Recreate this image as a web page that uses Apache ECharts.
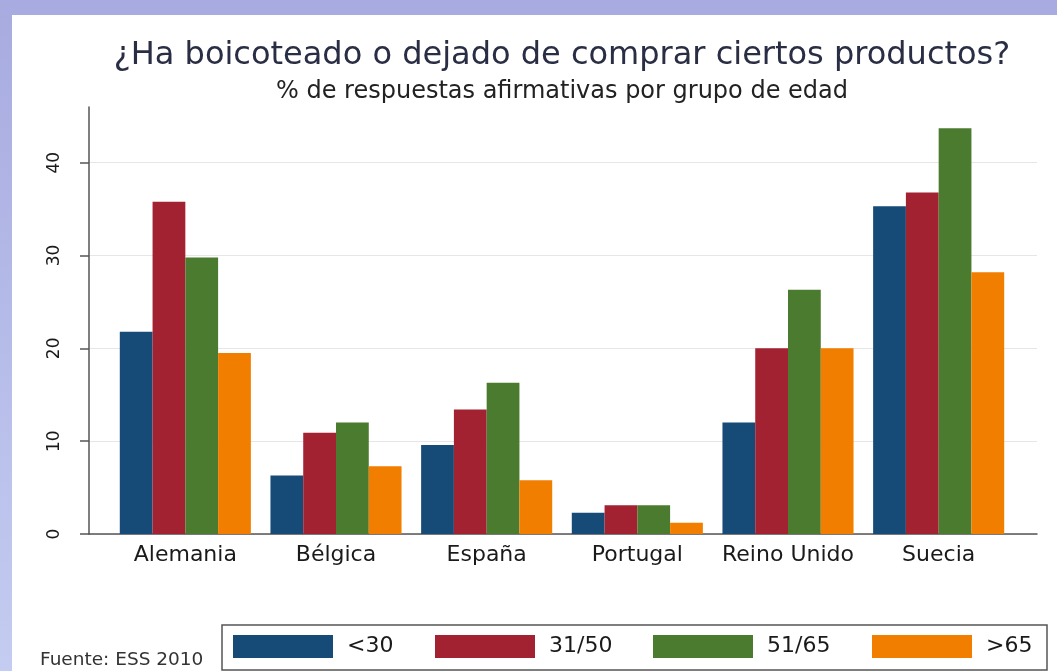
<!DOCTYPE html>
<html>
<head>
<meta charset="utf-8">
<script src="https://cdn.jsdelivr.net/npm/echarts@6/dist/echarts.min.js"></script>
<style>
html,body{margin:0;padding:0;}
#c{width:1057px;height:671px;}
</style>
</head>
<body>
<div id="c"></div>
<script>
const categories = ['Alemania', 'Bélgica', 'España', 'Portugal', 'Reino Unido', 'Suecia'];
const seriesNames = ['<30', '31/50', '51/65', '>65'];
const under30 = [21.8, 6.3, 9.6, 2.3, 12.0, 35.3];
const age31to50 = [35.8, 10.9, 13.4, 3.1, 20.0, 36.8];
const age51to65 = [29.8, 12.0, 16.3, 3.1, 26.3, 43.7];
const over65 = [19.5, 7.3, 5.8, 1.2, 20.0, 28.2];
const yTicks = [0, 10, 20, 30, 40];
const colors = ['#164a77', '#a22232', '#4b7b2e', '#f27e00'];

const FONT = 'DejaVu Sans';
const chart = echarts.init(document.getElementById('c'));
const seriesData = [under30, age31to50, age51to65, over65];
const legendLefts = [233, 435, 653, 872];

const option = {
  animation: false,
  textStyle: { fontFamily: FONT },
  graphic: [
    { type: 'rect', z: -100, shape: { x: 0, y: 0, width: 1057, height: 671 },
      style: { fill: new echarts.graphic.LinearGradient(0, 0, 0, 1, [
        { offset: 0, color: '#a7abdf' }, { offset: 1, color: '#c4ccf1' }]) } },
    { type: 'rect', z: -90, shape: { x: 12, y: 15, width: 1045, height: 656 },
      style: { fill: '#ffffff' } },
    { type: 'rect', z: -80, shape: { x: 222, y: 625, width: 825, height: 45 },
      style: { fill: '#ffffff', stroke: '#555555', lineWidth: 1.5 } },
    { type: 'text', z: 10, x: 40, y: 660,
      style: { text: 'Fuente: ESS 2010', fill: '#333333', font: '18.5px "DejaVu Sans"', textVerticalAlign: 'middle' } }
  ],
  title: [
    { text: '¿Ha boicoteado o dejado de comprar ciertos productos?', left: 562, top: 40, textAlign: 'center',
      padding: 0, textStyle: { fontFamily: FONT, fontSize: 32, fontWeight: 'normal', color: '#2a2e45' } },
    { text: '% de respuestas afirmativas por grupo de edad', left: 562, top: 80, textAlign: 'center',
      padding: 0, textStyle: { fontFamily: FONT, fontSize: 24, fontWeight: 'normal', color: '#222222' } }
  ],
  legend: seriesNames.map((name, i) => ({
    data: [name],
    left: legendLefts[i], top: 635, padding: 0,
    itemWidth: 100, itemHeight: 23,
    icon: 'rect',
    textStyle: { fontFamily: FONT, fontSize: 22, color: '#1a1a1a', padding: [0, 0, 0, 9] }
  })),
  grid: [
    { left: 89, right: 20, top: 107, bottom: 137 },
    { left: 110, right: 43, top: 107, bottom: 137 }
  ],
  xAxis: [
    { type: 'category', gridIndex: 0, data: categories,
      axisLine: { show: true, lineStyle: { color: '#555555', width: 1.5 } },
      axisTick: { show: false }, axisLabel: { show: false }, splitLine: { show: false } },
    { type: 'category', gridIndex: 1, data: categories,
      axisLine: { show: false }, axisTick: { show: false },
      axisLabel: { interval: 0, fontFamily: FONT, fontSize: 22, color: '#1a1a1a', margin: 10 } }
  ],
  yAxis: [
    { type: 'value', gridIndex: 0, min: 0, max: 46, interval: 10,
      axisLine: { show: true, lineStyle: { color: '#555555', width: 1.5 } },
      axisTick: { show: true, length: 9, customValues: yTicks, lineStyle: { color: '#555555', width: 1.5 } },
      axisLabel: { rotate: 90, customValues: yTicks, fontFamily: FONT, fontSize: 17, color: '#1a1a1a', margin: 26 },
      splitLine: { show: true, lineStyle: { color: ['#e6e6e6', '#e6e6e6', '#e6e6e6', '#e6e6e6', '#e6e6e6', 'rgba(0,0,0,0)'], width: 1 } } },
    { type: 'value', gridIndex: 1, min: 0, max: 46, interval: 10, show: false, splitLine: { show: false } }
  ],
  series: seriesNames.map((name, i) => ({
    name: name,
    type: 'bar',
    xAxisIndex: 1,
    yAxisIndex: 1,
    data: seriesData[i],
    barGap: '0%',
    barCategoryGap: '13%',
    itemStyle: { color: colors[i] }
  }))
};
chart.setOption(option);
</script>
</body>
</html>
